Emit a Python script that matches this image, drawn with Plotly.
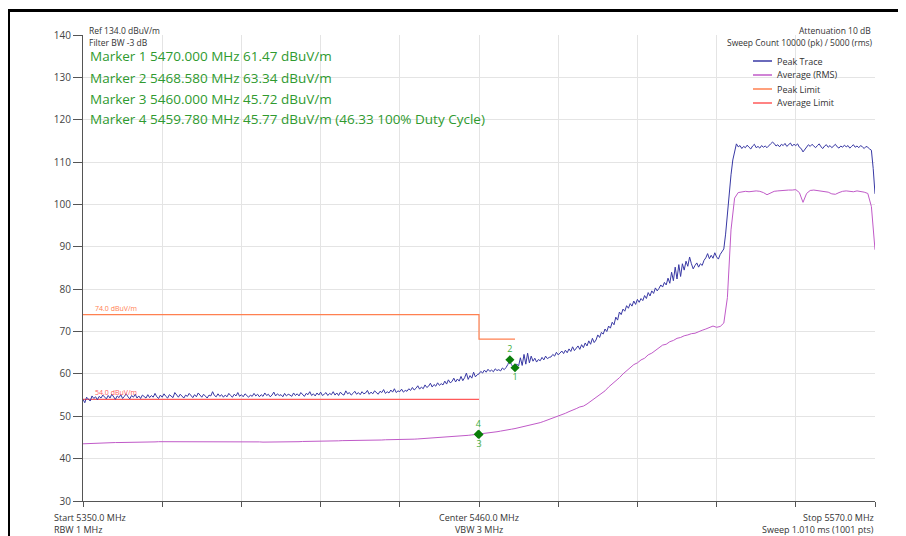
import plotly.graph_objects as go

# ---------------- data ----------------
START_MHZ = 5350.0
STOP_MHZ = 5570.0
PEAK_STEP = 0.5
AVG_STEP = 1.0

peak_trace = [
    54.0, 53.2, 54.5, 54.1, 53.6, 54.8, 54.2, 54.6, 53.9, 54.7, 54.3, 55.0, 54.4, 54.1, 54.9, 54.3, 55.2, 54.5, 54.0, 54.8,
    54.4, 55.1, 54.2, 54.7, 55.3, 54.6, 54.1, 54.9, 54.5, 55.2, 54.3, 54.8, 54.2, 55.0, 54.6, 54.3, 55.1, 54.4, 54.9, 54.5,
    55.4, 54.6, 54.2, 55.0, 54.5, 55.3, 54.7, 54.3, 55.1, 54.8, 54.4, 55.6, 54.9, 54.5, 55.2, 54.6, 54.3, 55.0, 54.7, 55.4,
    54.8, 54.4, 55.1, 54.6, 55.5, 54.9, 54.5, 55.2, 54.7, 54.3, 55.0, 54.8, 55.8, 54.9, 54.6, 55.3, 54.7, 55.1, 54.5, 55.0,
    54.6, 55.4, 54.9, 54.5, 55.2, 54.8, 55.6, 54.7, 55.1, 54.6, 55.3, 54.9, 54.5, 55.0, 54.7, 55.4, 54.8, 55.2, 54.6, 55.1,
    54.7, 55.5, 54.9, 55.2, 54.6, 55.0, 55.7, 54.8, 55.3, 54.9, 55.1, 54.6, 55.4, 54.8, 55.2, 55.0, 54.7, 55.5, 54.9, 55.3,
    54.8, 55.6, 55.0, 54.7, 55.4, 55.1, 55.8, 54.9, 55.3, 54.8, 55.5, 55.0, 55.7, 54.9, 55.2, 55.6, 54.9, 55.4, 55.1, 55.8,
    55.0, 55.5, 54.9, 55.7, 55.2, 55.0, 56.0, 55.3, 55.6, 55.0, 55.4, 55.9, 55.2, 55.6, 55.1, 55.8, 55.3, 55.5, 56.1, 55.2,
    55.7, 55.3, 56.0, 55.5, 55.2, 55.9, 55.6, 56.3, 55.4, 55.8, 55.5, 56.2, 55.7, 56.5, 55.6, 56.0, 55.8, 56.4, 55.7, 56.1,
    55.9, 56.5, 56.1, 56.8, 56.2, 56.6, 57.2, 56.4, 56.9, 56.5, 57.4, 56.8, 57.1, 57.8, 56.9, 57.5, 57.1, 57.9, 57.3, 57.7,
    57.4, 58.3, 57.6, 58.6, 57.9, 58.2, 59.0, 58.1, 58.8, 58.3, 59.4, 58.4, 59.1, 60.2, 58.7, 59.6, 59.0, 60.4, 59.3, 59.8,
    60.0, 60.6, 60.2, 60.9, 60.4, 61.1, 60.6, 60.9, 60.5, 61.2, 60.8, 61.0, 60.7, 61.4, 61.0, 61.5, 62.2, 63.3, 62.2, 61.6,
    61.5, 62.3, 61.9, 63.8, 62.0, 64.6, 62.3, 64.9, 62.6, 64.2, 63.0, 63.7, 62.8, 63.4, 63.1, 63.9, 63.3, 64.2, 63.6, 63.9,
    64.0, 64.6, 64.2, 65.1, 64.5, 64.9, 65.4, 64.8, 65.6, 65.0, 65.9, 65.3, 66.4, 65.5, 66.1, 66.6, 65.8, 66.9, 66.2, 67.3,
    66.6, 67.8, 67.0, 68.4, 67.4, 68.0, 69.2, 68.6, 69.8, 69.4, 70.6, 70.0, 71.3, 70.8, 72.2, 71.6, 73.4, 72.7, 74.6, 74.0,
    75.3, 74.8, 76.1, 75.5, 76.6, 76.0, 77.2, 76.4, 77.6, 76.9, 77.8, 77.3, 78.5, 77.8, 79.2, 78.4, 79.6, 79.0, 80.3, 79.6,
    80.2, 81.0, 80.5, 81.6, 81.0, 82.6, 81.4, 84.0, 82.0, 85.2, 82.4, 85.8, 83.0, 86.0, 84.5, 86.6, 85.4, 87.6, 86.0, 84.8,
    85.6, 86.2, 85.2, 86.0, 85.6, 86.8, 87.4, 88.4, 87.2, 88.0, 87.3, 88.6, 87.6, 87.1, 88.2, 88.8, 89.5, 93.0, 98.0, 103.0,
    107.0, 110.5, 112.5, 114.3, 113.6, 113.9, 113.2, 113.7, 113.4, 114.0, 113.5, 113.1, 113.8, 114.2, 113.4, 113.7, 113.3, 113.9, 113.5, 113.8,
    113.4, 114.0, 114.3, 114.7, 114.4, 113.8, 114.1, 113.6, 114.2, 113.9, 114.4, 113.7, 114.1, 114.5, 113.8, 114.2, 113.9, 114.3, 113.5, 113.2,
    112.4, 113.0, 113.6, 114.1, 113.7, 114.2, 113.8, 113.4, 113.9, 114.3, 113.6, 113.2, 113.8, 114.1, 113.5, 113.9, 113.4, 113.7, 114.2, 113.6,
    113.3, 113.8, 113.5, 114.0, 113.6, 113.9, 113.3, 113.7, 114.1, 113.5, 113.8, 113.4, 113.9, 113.6, 113.2, 113.7, 113.5, 113.1, 112.8, 108.5,
    102.5,
]

average_rms = [
    43.5, 43.55, 43.6, 43.6, 43.65, 43.7, 43.7, 43.75, 43.75, 43.8,
    43.8, 43.8, 43.85, 43.85, 43.9, 43.9, 43.9, 43.9, 43.95, 43.95,
    43.95, 44.0, 44.0, 44.0, 44.0, 44.05, 44.05, 44.05, 44.1, 44.1,
    44.1, 44.1, 44.1, 44.05, 44.05, 44.0, 44.0, 44.0, 44.0, 43.95,
    43.95, 43.95, 43.95, 44.0, 44.0, 44.0, 44.0, 44.0, 44.0, 43.95,
    43.9, 43.9, 43.85, 43.85, 43.85, 43.9, 43.9, 43.95, 44.0, 44.0,
    44.0, 44.05, 44.05, 44.1, 44.1, 44.1, 44.15, 44.15, 44.2, 44.2,
    44.2, 44.2, 44.25, 44.25, 44.25, 44.3, 44.3, 44.3, 44.3, 44.35,
    44.35, 44.4, 44.4, 44.4, 44.45, 44.45, 44.5, 44.5, 44.5, 44.55,
    44.55, 44.6, 44.6, 44.65, 44.7, 44.75, 44.8, 44.85, 44.9, 44.95,
    45.0, 45.05, 45.1, 45.15, 45.2, 45.3, 45.4, 45.5, 45.6, 45.7,
    45.72, 45.85, 45.95, 46.1, 46.2, 46.35, 46.5, 46.6, 46.8, 46.95,
    47.1, 47.3, 47.4, 47.6, 47.8, 48.0, 48.3, 48.5, 48.8, 49.1,
    49.4, 49.7, 50.0, 50.4, 50.7, 51.1, 51.4, 51.8, 52.2, 52.4,
    52.9, 53.5, 54.1, 54.6, 55.3, 56.0, 56.9, 57.6, 58.4, 59.1,
    60.0, 60.7, 61.5, 62.2, 62.6, 63.3, 63.7, 64.5, 64.9, 65.6,
    66.2, 66.8, 67.0, 67.6, 67.9, 68.4, 68.6, 69.0, 69.2, 69.5,
    69.6, 70.0, 70.3, 70.6, 70.9, 71.3, 71.0, 71.2, 72.0, 78.0,
    94.0, 101.5, 102.8, 103.0, 103.1, 103.0, 103.1, 103.2, 103.1, 102.8,
    102.3, 102.8, 103.1, 103.2, 103.3, 103.3, 103.4, 103.4, 103.5, 102.8,
    100.5, 102.6, 103.3, 103.4, 103.3, 103.2, 103.1, 102.9, 102.5, 102.4,
    102.8, 103.1, 103.2, 103.1, 103.0, 103.2, 103.1, 102.9, 102.6, 99.5,
    89.3,
]

peak_limit_freq = [5350.0, 5460.0, 5460.0, 5470.0]
peak_limit_level = [74.0, 74.0, 68.2, 68.2]
avg_limit_freq = [5350.0, 5460.0]
avg_limit_level = [54.0, 54.0]

marker_ids = ["1", "2", "3", "4"]
marker_freq = [5470.000, 5468.580, 5460.000, 5459.780]
marker_level = [61.47, 63.34, 45.72, 45.77]
marker_label_pos = ["bottom center", "top center", "bottom center", "top center"]
marker_lines = [
    "Marker 1 5470.000 MHz 61.47 dBuV/m",
    "Marker 2 5468.580 MHz 63.34 dBuV/m",
    "Marker 3 5460.000 MHz 45.72 dBuV/m",
    "Marker 4 5459.780 MHz 45.77 dBuV/m (46.33 100% Duty Cycle)",
]

x_ticks = [5350 + 22 * i for i in range(11)]
y_ticks = [30, 40, 50, 60, 70, 80, 90, 100, 110, 120, 130, 140]

legend_names = ["Peak Trace", "Average (RMS)", "Peak Limit", "Average Limit"]

# ---------------- styling ----------------
C_PEAK = "#3838a4"
C_AVG = "#c05ac8"
C_PLIM = "#ff8050"
C_ALIM = "#ff5a5a"
C_MARK = "#0a7d0a"
C_MTXT = "#2f9a2f"
C_LBL = "#3cab3c"
FONT = "Open Sans"

peak_freq = [START_MHZ + i * PEAK_STEP for i in range(len(peak_trace))]
avg_freq = [START_MHZ + i * AVG_STEP for i in range(len(average_rms))]

fig = go.Figure()
fig.add_trace(go.Scatter(x=avg_limit_freq, y=avg_limit_level, mode="lines",
                         line=dict(color=C_ALIM, width=1.2), name=legend_names[3]))
fig.add_trace(go.Scatter(x=peak_limit_freq, y=peak_limit_level, mode="lines",
                         line=dict(color=C_PLIM, width=1.2), name=legend_names[2]))
fig.add_trace(go.Scatter(x=avg_freq, y=average_rms, mode="lines",
                         line=dict(color=C_AVG, width=1), name=legend_names[1]))
fig.add_trace(go.Scatter(x=peak_freq, y=peak_trace, mode="lines",
                         line=dict(color=C_PEAK, width=1), name=legend_names[0]))
fig.add_trace(go.Scatter(x=marker_freq, y=marker_level, mode="markers+text",
                         text=marker_ids, textposition=marker_label_pos,
                         textfont=dict(family=FONT, size=9, color=C_LBL),
                         marker=dict(symbol="diamond", size=7, color=C_MARK),
                         name="Markers"))

# page offset (browser body margin) and plot area geometry in window px
OFF = 8
L, R, T, B = 83, 875, 35, 501
W, H = 906 - OFF, 536 - OFF


def px(xp):
    return (xp - L) / (R - L)


def py(yp):
    return (B - yp) / (B - T)


ann = []
small = dict(family=FONT, size=9, color="#333333")
tiny = dict(family=FONT, size=8.5, color="#333333")
ann.append(dict(x=px(87), y=py(30.5), text="Ref 134.0 dBuV/m", xanchor="left", yanchor="middle", font=tiny))
ann.append(dict(x=px(87), y=py(42.5), text="Filter BW -3 dB", xanchor="left", yanchor="middle", font=tiny))
for i, t in enumerate(marker_lines):
    ann.append(dict(x=px(88), y=py(56.5 + 21 * i), text=t, xanchor="left", yanchor="middle",
                    font=dict(family=FONT, size=13.5, color=C_MTXT)))
ann.append(dict(x=px(873), y=py(30.5), text="Attenuation 10 dB", xanchor="right", yanchor="middle", font=tiny))
ann.append(dict(x=px(875), y=py(42.5), text="Sweep Count 10000 (pk) / 5000 (rms)", xanchor="right",
                yanchor="middle", font=tiny))
legend_colors = [C_PEAK, C_AVG, C_PLIM, C_ALIM]
for i, (n, c) in enumerate(zip(legend_names, legend_colors)):
    yy = 61 + 14 * i
    ann.append(dict(x=px(775), y=py(yy), text=n, xanchor="left", yanchor="middle", font=small))
bottom = [
    (52, 517, "Start 5350.0 MHz", "left"), (52, 529, "RBW 1 MHz", "left"),
    (479, 517, "Center 5460.0 MHz", "center"), (479, 529, "VBW 3 MHz", "center"),
    (876, 517, "Stop 5570.0 MHz", "right"), (876, 529, "Sweep 1.010 ms (1001 pts)", "right"),
]
for xx, yy, t, a in bottom:
    ann.append(dict(x=px(xx), y=py(yy), text=t, xanchor=a, yanchor="middle", font=small))
for a in ann:
    a.update(xref="paper", yref="paper", showarrow=False)
# limit labels (data coords)
ann.append(dict(x=START_MHZ + 2.7, y=peak_limit_level[0], xref="x", yref="y", text="74.0 dBuV/m",
                xanchor="left", yanchor="bottom", showarrow=False,
                font=dict(family=FONT, size=7, color=C_PLIM)))
ann.append(dict(x=START_MHZ + 2.7, y=avg_limit_level[0], xref="x", yref="y", text="54.0 dBuV/m",
                xanchor="left", yanchor="bottom", showarrow=False,
                font=dict(family=FONT, size=7, color=C_ALIM)))

shapes = []
for i, c in enumerate(legend_colors):
    yy = 61 + 14 * i
    shapes.append(dict(type="line", xref="paper", yref="paper", x0=px(753), x1=px(772),
                       y0=py(yy), y1=py(yy), line=dict(color=c, width=1.5)))
# outer frame (top and left)
shapes.append(dict(type="line", xref="paper", yref="paper", x0=px(7), x1=px(906),
                   y0=py(10.5), y1=py(10.5), line=dict(color="#000000", width=3)))
shapes.append(dict(type="line", xref="paper", yref="paper", x0=px(8.5), x1=px(8.5),
                   y0=py(9), y1=py(540), line=dict(color="#000000", width=3)))

fig.update_layout(
    width=W, height=H,
    margin=dict(l=L - OFF, r=906 - R, t=T - OFF, b=536 - B),
    paper_bgcolor="white", plot_bgcolor="white",
    showlegend=False,
    annotations=ann, shapes=shapes,
    font=dict(family=FONT, size=10, color="#333333"),
    xaxis=dict(range=[START_MHZ, STOP_MHZ], tickvals=x_ticks, showticklabels=False,
               showgrid=True, gridcolor="#e4e4e4", gridwidth=1, zeroline=False,
               showline=True, linecolor="#555555", linewidth=1,
               ticks="outside", ticklen=5, tickcolor="#555555"),
    yaxis=dict(range=[30, 140], tickvals=y_ticks, showgrid=True, gridcolor="#e4e4e4",
               gridwidth=1, zeroline=False, showline=True, linecolor="#555555", linewidth=1,
               ticks="outside", ticklen=9, tickcolor="#555555",
               tickfont=dict(family=FONT, size=10, color="#444444")),
)

fig.write_html("out.html")
